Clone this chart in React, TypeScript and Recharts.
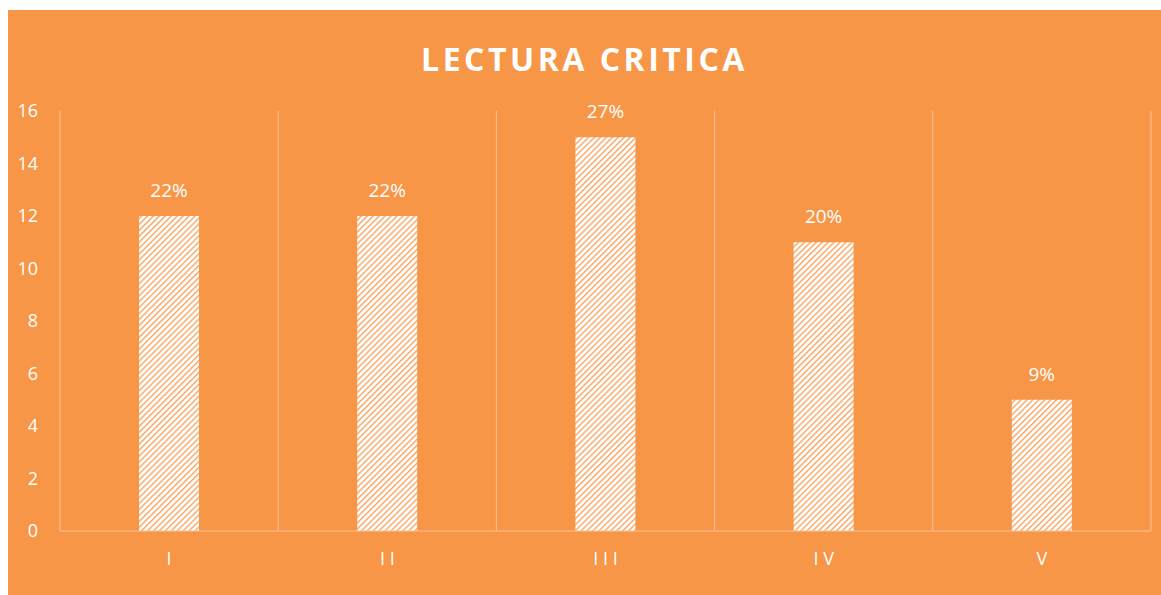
import { BarChart, Bar, XAxis, YAxis, CartesianGrid, LabelList } from "recharts";

const categories = ["I", "II", "III", "IV", "V"];
const tickLabels = ["I", "I I", "I I I", "I V", "V"];
const counts = [12, 12, 15, 11, 5];
const percentLabels = ["22%", "22%", "27%", "20%", "9%"];
const yTicks = [0, 2, 4, 6, 8, 10, 12, 14, 16];

const data = categories.map((c, i) => ({
  name: tickLabels[i],
  key: c,
  value: counts[i],
  pct: percentLabels[i],
}));

const ORANGE = "#F79646";
const GRID = "#FAC29A";
const FONT = "'Open Sans', sans-serif";

export default function App() {
  return (
    <div
      style={{
        position: "fixed",
        left: 8,
        top: 10,
        width: 1153,
        height: 585,
        background: ORANGE,
        fontFamily: FONT,
      }}
    >
      <div
        style={{
          position: "absolute",
          top: 31,
          left: 0,
          width: "100%",
          textAlign: "center",
          color: "#fff",
          fontWeight: 700,
          fontSize: 32,
          letterSpacing: 3.5,
          lineHeight: "36px",
        }}
      >
        LECTURA CRITICA
      </div>
      <BarChart
        width={1153}
        height={585}
        data={data}
        margin={{ top: 101, right: 10, bottom: 0, left: 0 }}
        barCategoryGap="0%"
      >
        <defs>
          <pattern
            id="hatch"
            width="4.2"
            height="4.2"
            patternUnits="userSpaceOnUse"
            patternTransform="rotate(45)"
          >
            <rect width="4.2" height="4.2" fill="#ffffff" />
            <rect width="1.4" height="4.2" fill={ORANGE} opacity={0.85} />
          </pattern>
        </defs>
        <CartesianGrid
          horizontal={false}
          stroke={GRID}
          verticalCoordinatesGenerator={({ offset }: any) =>
            categories.concat([""]).map((_, i) => offset.left + (i * offset.width) / categories.length)
          }
        />
        <XAxis
          dataKey="name"
          height={64}
          axisLine={{ stroke: GRID }}
          tickLine={false}
          tickSize={6}
          tickMargin={15}
          tick={{ fill: "#fff", fontSize: 18, fontFamily: FONT }}
        />
        <YAxis
          width={52}
          domain={[0, 16]}
          ticks={yTicks}
          axisLine={false}
          tickLine={false}
          tickSize={6}
          tickMargin={16}
          tick={{ fill: "#fff", fontSize: 18, fontFamily: FONT }}
        />
        <Bar dataKey="value" fill="url(#hatch)" barSize={60} isAnimationActive={false}>
          <LabelList
            dataKey="pct"
            position="top"
            offset={19}
            fill="#fff"
            fontSize={19}
            fontFamily={FONT}
          />
        </Bar>
      </BarChart>
    </div>
  );
}
